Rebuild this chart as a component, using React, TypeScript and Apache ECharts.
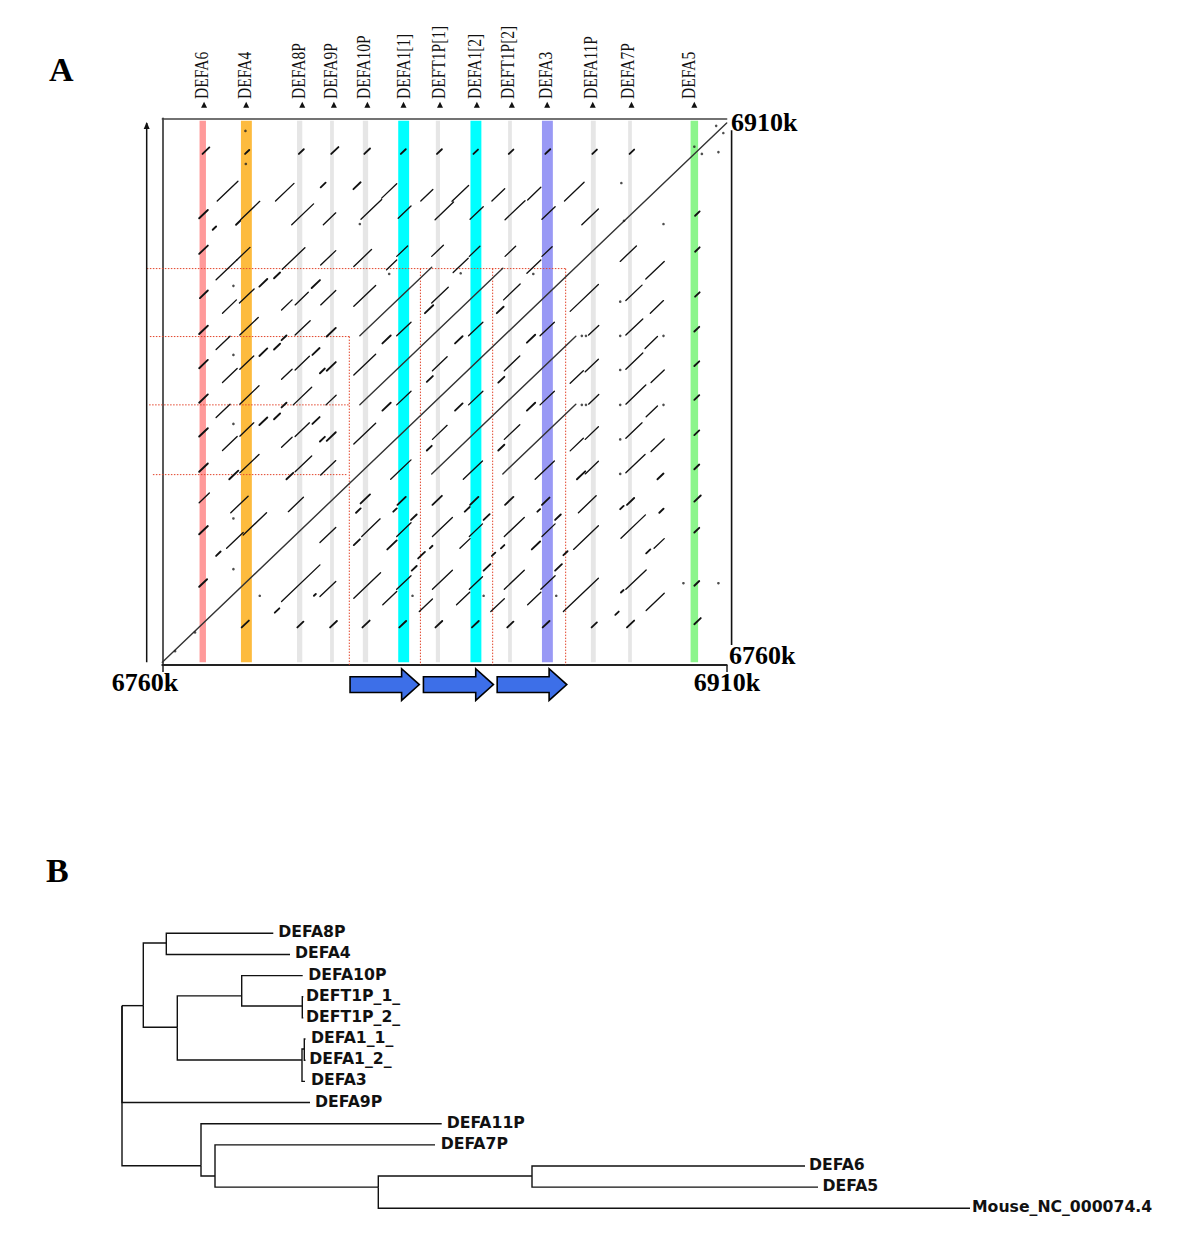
import React, { useEffect, useRef } from "react";
import * as echarts from "echarts";

// Panel A: positions in kb.
const geneNames = ["DEFA6","DEFA4","DEFA8P","DEFA9P","DEFA10P","DEFA1[1]","DEFT1P[1]","DEFA1[2]","DEFT1P[2]","DEFA3","DEFA11P","DEFA7P","DEFA5"];
const geneStart = [6769.9,6780.9,6795.8,6804.6,6813.3,6822.7,6832.7,6841.9,6851.9,6860.9,6873.9,6883.8,6900.4];
const geneEnd = [6771.6,6783.8,6797.2,6805.6,6814.7,6825.6,6833.8,6844.8,6852.9,6863.8,6875.2,6884.8,6902.4];
const geneColours = ["#ff9a9a","#fdbb3e","#e6e6e6","#e6e6e6","#e6e6e6","#00ffff","#e6e6e6","#00ffff","#e6e6e6","#9999f5","#e6e6e6","#e6e6e6","#8cf58c"];
const geneLabelPos = [6770.5,6782.1,6796.3,6804.8,6813.6,6824.2,6833.5,6843.1,6851.9,6861.9,6873.9,6883.8,6900.0];
const geneStrandPos = [6771.1,6782.3,6797.2,6805.6,6814.5,6824.1,6833.8,6843.6,6852.9,6862.3,6874.4,6884.7,6901.4];

// Matches in the dot plot: [x start kb, y start kb, length kb]
const rowA = [[6770.7,6901.4,1.8],[6782.0,6901.4,1.1],[6796.3,6901.4,1.3],[6804.9,6901.4,1.9],[6813.7,6901.4,1.5],[6823.4,6901.4,1.3],[6833.0,6901.4,1.3],[6842.7,6901.4,1.2],[6852.1,6901.4,1.2],[6861.8,6901.4,1.3],[6874.3,6901.4,1.2],[6884.2,6901.4,1.2]];
const rowB = [[6774.6,6888.3,5.5],[6790.1,6888.3,4.9],[6802.1,6892.1,1.3],[6810.8,6891.6,1.9],[6818.3,6889.1,4.0],[6828.7,6888.3,3.2],[6837.0,6888.2,4.4],[6847.6,6888.3,3.4],[6857.1,6888.6,3.5],[6866.9,6888.3,5.2]];
const rowC = [[6769.8,6883.5,2.3],[6773.4,6880.3,0.9],[6779.6,6881.7,1.1],[6780.8,6883.1,5.1],[6794.4,6881.7,5.8],[6802.8,6881.7,3.3],[6812.8,6883.2,5.5],[6822.7,6883.5,3.4],[6832.5,6883.1,4.9],[6841.8,6883.2,3.5],[6851.1,6883.1,5.3],[6860.9,6883.2,3.5],[6871.5,6881.7,4.4],[6901.6,6884.2,1.2]];
const rowD = [[6769.8,6873.6,2.3],[6774.3,6866.4,5.5],[6779.8,6871.9,3.5],[6791.9,6869.3,6.0],[6802.1,6870.5,4.0],[6810.9,6870.1,4.7],[6819.6,6869.2,2.7],[6822.3,6872.9,2.9],[6831.6,6872.9,3.1],[6837.3,6868.4,4.0],[6841.6,6872.9,2.8],[6851.1,6872.9,2.8],[6856.9,6868.2,3.7],[6860.9,6872.9,2.7],[6881.7,6871.5,4.3],[6888.5,6866.6,4.9],[6901.6,6874.2,1.2]];
const rowE = [[6770.0,6861.3,2.1],[6776.0,6857.1,3.7],[6780.5,6859.9,3.9],[6785.8,6864.5,2.1],[6789.7,6866.8,1.6],[6791.7,6858.0,2.8],[6795.3,6859.4,3.5],[6799.7,6864.1,2.2],[6802.1,6859.4,4.0],[6810.9,6859.0,5.8],[6829.8,6857.1,2.2],[6831.6,6859.9,4.4],[6848.9,6857.1,1.8],[6850.7,6860.8,4.4],[6868.4,6857.6,7.5],[6883.2,6860.6,4.3],[6889.7,6857.1,3.5],[6901.6,6861.7,1.2]];
const rowF = [[6769.8,6851.3,2.3],[6774.3,6847.0,3.7],[6780.6,6851.0,4.9],[6791.7,6849.6,1.3],[6795.3,6851.0,4.0],[6803.7,6850.6,2.4],[6818.5,6848.7,2.2],[6822.3,6850.8,3.8],[6837.8,6848.7,2.0],[6841.4,6850.8,3.8],[6856.9,6848.9,2.2],[6860.4,6850.8,3.8],[6873.3,6851.0,2.7],[6883.2,6851.0,4.5],[6888.3,6847.3,3.3],[6901.4,6852.0,1.3]];
const rowG = [[6769.8,6841.8,2.3],[6776.0,6837.8,3.9],[6780.6,6841.5,3.7],[6785.8,6845.2,2.1],[6789.7,6847.0,1.6],[6791.7,6838.7,2.8],[6795.3,6841.3,3.8],[6799.9,6845.5,1.9],[6801.9,6840.4,1.3],[6803.7,6841.1,2.4],[6810.9,6839.9,5.8],[6830.3,6838.0,1.6],[6831.8,6841.1,3.9],[6849.3,6837.8,1.6],[6850.9,6841.1,4.1],[6868.4,6837.6,3.5],[6872.4,6840.8,3.5],[6883.2,6841.5,4.5],[6889.9,6837.8,3.5],[6901.4,6842.4,1.3]];
const rowH = [[6769.8,6832.2,2.3],[6774.3,6828.1,3.7],[6780.6,6831.8,5.1],[6791.7,6830.9,1.3],[6794.8,6831.6,4.9],[6803.5,6831.6,2.7],[6818.5,6830.0,2.2],[6822.3,6831.6,3.8],[6837.8,6830.0,2.0],[6841.4,6831.6,3.8],[6856.9,6830.0,2.2],[6860.4,6831.6,3.8],[6873.3,6831.8,2.7],[6883.2,6831.8,5.3],[6888.6,6828.3,3.0],[6901.4,6833.0,1.3]];
const rowI = [[6769.8,6822.8,2.3],[6776.0,6818.9,3.9],[6780.6,6822.9,3.7],[6785.8,6826.0,2.1],[6789.7,6827.6,1.6],[6791.7,6819.8,2.8],[6795.3,6822.8,3.8],[6799.9,6826.3,1.9],[6801.9,6821.4,1.3],[6803.7,6821.6,2.4],[6810.9,6820.7,5.8],[6830.3,6818.9,1.3],[6831.8,6822.0,3.9],[6849.3,6818.9,1.6],[6850.9,6822.0,4.1],[6868.4,6818.8,3.5],[6872.4,6822.0,3.5],[6883.2,6822.3,4.3],[6889.9,6818.6,3.5],[6901.4,6823.2,1.3]];
const rowJ = [[6769.8,6813.0,2.3],[6777.8,6810.9,2.4],[6780.6,6812.7,5.1],[6793.0,6810.9,1.8],[6795.3,6813.0,4.4],[6802.1,6812.1,4.0],[6820.7,6810.9,5.4],[6840.0,6810.9,5.1],[6859.1,6810.9,5.1],[6870.2,6810.9,2.2],[6872.4,6812.4,3.5],[6883.2,6812.7,5.1],[6891.6,6810.9,1.6],[6901.4,6813.7,1.3]];
const rowK = [[6769.8,6804.4,2.7],[6778.2,6801.6,4.6],[6793.5,6801.9,4.0],[6811.5,6801.6,1.2],[6812.7,6804.2,2.5],[6821.4,6801.9,0.9],[6822.5,6803.8,2.2],[6831.8,6803.8,2.5],[6840.4,6801.9,1.3],[6841.8,6803.8,2.2],[6851.1,6803.8,2.2],[6859.7,6801.9,0.7],[6860.9,6803.8,2.0],[6870.6,6801.6,4.7],[6881.7,6802.6,0.9],[6883.5,6803.8,1.9],[6892.1,6801.6,1.1],[6901.4,6804.7,1.7]];
const rowL = [[6769.8,6795.6,2.3],[6774.3,6789.6,1.2],[6777.1,6791.7,4.4],[6781.5,6795.4,6.2],[6801.9,6793.3,4.2],[6810.9,6792.6,1.6],[6813.0,6795.0,4.9],[6819.8,6791.4,2.5],[6822.3,6795.0,3.8],[6826.1,6799.6,1.5],[6831.1,6791.7,0.7],[6831.8,6795.0,5.3],[6839.1,6791.7,2.7],[6841.6,6795.0,3.5],[6845.4,6799.6,1.6],[6850.0,6791.7,0.9],[6850.9,6795.0,5.3],[6858.2,6791.4,2.2],[6860.9,6795.0,3.5],[6864.4,6799.6,1.5],[6869.3,6791.4,6.6],[6881.9,6794.5,6.5],[6888.6,6790.3,1.1],[6890.7,6791.7,2.7],[6901.4,6796.1,1.3]];
const rowM = [[6769.8,6781.0,2.1],[6789.9,6773.8,1.2],[6791.7,6776.9,10.2],[6800.3,6778.5,0.5],[6801.9,6778.3,4.2],[6810.9,6777.8,7.1],[6818.6,6776.0,3.7],[6822.3,6780.3,3.8],[6826.3,6785.5,1.3],[6828.0,6788.9,1.8],[6828.3,6774.1,3.5],[6831.8,6780.3,5.3],[6838.2,6776.0,3.5],[6841.6,6780.3,3.5],[6845.4,6785.5,1.8],[6847.6,6789.6,0.9],[6847.3,6774.1,3.6],[6850.9,6780.3,5.3],[6857.1,6776.0,3.5],[6860.6,6780.3,3.8],[6864.4,6785.5,1.8],[6866.6,6789.8,1.1],[6866.6,6774.1,9.3],[6881.9,6779.4,0.7],[6883.2,6780.3,5.4],[6880.4,6773.2,0.9],[6888.6,6774.4,4.8],[6901.4,6781.3,1.3]];
const rowN = [[6781.1,6769.7,1.9],[6795.9,6769.7,1.6],[6804.6,6769.7,1.8],[6813.2,6769.7,1.9],[6823.0,6769.7,1.8],[6832.6,6769.7,1.8],[6842.3,6769.7,1.8],[6851.7,6769.7,1.6],[6861.1,6769.7,1.8],[6874.1,6769.7,1.4],[6883.5,6769.7,1.9],[6901.4,6770.6,1.7]];
const longMatches = [[6760,6760,150],[6812.5,6850.8,19.1],[6812.5,6831.6,38.0],[6831.6,6812.4,38.3],[6850.5,6812.4,19.4]];
const isolatedDots = [[6782.1,6907.8],[6782.2,6898.6],[6882.0,6893.3],[6812.5,6881.9],[6893.2,6881.9],[6882.7,6882.8],[6820.3,6868.0],[6839.3,6868.2],[6858.6,6868.0],[6907.2,6909.2],[6909.1,6907.2],[6903.4,6901.4],[6907.8,6901.9],[6901.4,6903.4],[6881.7,6860.3],[6778.9,6864.7],[6881.7,6850.8],[6893.2,6850.8],[6871.5,6850.8],[6872.6,6850.8],[6778.9,6845.5],[6881.7,6841.3],[6778.9,6826.3],[6881.7,6831.6],[6871.5,6831.6],[6872.6,6831.6],[6893.2,6831.6],[6881.7,6822.0],[6881.7,6812.4],[6778.9,6800.0],[6778.9,6785.9],[6785.9,6778.5],[6826.5,6778.5],[6845.4,6778.5],[6864.7,6778.5],[6898.5,6782.0],[6907.8,6782.0],[6768.7,6768.3],[6763.4,6763.1]];

// Guides: [x0, y0, x1, y1] kb
const guides = [[6755.9,6869.5,6867.2,6869.5],[6756.7,6850.6,6809.7,6850.6],[6756.5,6831.6,6809.7,6831.6],[6757.5,6812.2,6809.0,6812.2],[6809.7,6850.6,6809.7,6759.25],[6828.6,6869.5,6828.6,6759.25],[6847.8,6869.5,6847.8,6759.25],[6867.2,6869.5,6867.2,6759.25]];
// Repeat units: [start kb, end kb]
const repeatUnits = [[6809.9,6828.3],[6829.4,6848.0],[6849.0,6867.5]];

// Panel B: phylogeny.
const treeNames = ["","","","DEFA8P","DEFA4","","","DEFA10P","","DEFT1P_1_","DEFT1P_2_","","","DEFA1_1_","DEFA1_2_","DEFA3","DEFA9P","","DEFA11P","","DEFA7P","","","DEFA6","DEFA5","Mouse_NC_000074.4"];
const treeParents = [-1,0,1,2,2,1,5,6,6,8,8,5,11,12,12,11,0,0,17,17,19,19,21,22,22,21];
const treeDepths = [0,21.3,44.3,151.3,168,55.3,119.7,180.7,180.3,181.3,181.3,180,182.3,183.5,183.5,183,188,79,319.7,93,313,256.3,410,683,696,848];
const treeRows = [3.42,3.42,0.46,0,1,4.44,2.96,2,3.44,3,4,5.99,5.47,5,6,7,8,10.99,9,11.47,10,12,11.47,11,12,13];
const treeLabelDepths = [0,0,0,156.3,173,0,0,186.3,0,184,184,0,0,189,187.3,189,193,0,324.7,0,318.7,0,0,687,700.5,850];

const KB_BOTTOM = 6760;
const KB_TOP = 6910.6;
const LABEL_Y = 6916.7;
const SERIF = '"Liberation Serif", serif';

function seg(api: any, stroke: string, lineWidth: number) {
  const x = api.value(0), y = api.value(1), L = api.value(2);
  const a = api.coord([x, y]), b = api.coord([x + L, y + L]);
  return { type: "line", shape: { x1: a[0], y1: a[1], x2: b[0], y2: b[1] }, style: { stroke, lineWidth, lineCap: "round" } };
}

export default function App() {
  const ref = useRef<HTMLDivElement>(null);
  useEffect(() => {
    const chart = echarts.init(ref.current!, undefined, { renderer: "svg" });
    const shortMatches = [...rowA, ...rowB, ...rowC, ...rowD, ...rowE, ...rowF, ...rowG, ...rowH, ...rowI, ...rowJ, ...rowK, ...rowL, ...rowM, ...rowN];
    const base = { coordinateSystem: "cartesian2d", xAxisIndex: 0, yAxisIndex: 0, silent: true };
    const treeEdges = treeParents.map((p, i) => [i, p]).filter((e) => e[1] >= 0);
    const bigText = (text: string, x: number, y: number, align: string, size: number) => ({
      type: "text", x, y, z: 100,
      style: { text, fill: "#000", font: `bold ${size}px ${SERIF}`, textAlign: align, textVerticalAlign: "middle" },
    });
    chart.setOption({
      animation: false,
      backgroundColor: "#fff",
      tooltip: { show: false },
      grid: [
        { left: 162.3, top: 118.3, width: 564.4, height: 546.7 },
        { left: 122, top: 933.3, width: 1078, height: 275 },
      ],
      xAxis: [
        { type: "value", gridIndex: 0, min: 6760, max: 6910, position: "bottom", splitLine: { show: false }, axisLabel: { show: false },
          axisLine: { show: true, onZero: false, lineStyle: { color: "#222", width: 2 } },
          axisTick: { show: true, length: 7, customValues: [6760, 6910], lineStyle: { color: "#222", width: 1.5 } } },
        { type: "value", gridIndex: 0, min: 6760, max: 6910, position: "top", splitLine: { show: false }, axisLabel: { show: false }, axisTick: { show: false },
          axisLine: { show: true, onZero: false, lineStyle: { color: "#444", width: 1.5 } } },
        { type: "value", gridIndex: 1, min: 0, max: 1078, show: false },
      ],
      yAxis: [
        { type: "value", gridIndex: 0, min: 6759.25, max: 6911.3, splitLine: { show: false }, axisLabel: { show: false }, axisTick: { show: false },
          axisLine: { show: true, onZero: false, lineStyle: { color: "#222", width: 1.5 } } },
        { type: "value", gridIndex: 1, min: 0, max: 13, inverse: true, show: false },
      ],
      graphic: [
        bigText("A", 49, 69, "left", 34),
        bigText("B", 46, 870, "left", 34),
        bigText("6760k", 145, 682, "center", 26),
        bigText("6910k", 727, 682, "center", 26),
        bigText("6910k", 731, 122, "left", 26),
        bigText("6760k", 729, 655, "left", 26),
      ],
      series: [
        { ...base, type: "custom", z: 1, data: geneStart.map((s, i) => [s, geneEnd[i]]),
          renderItem: (p: any, api: any) => {
            const a = api.coord([api.value(0), KB_TOP]), b = api.coord([api.value(1), KB_BOTTOM]);
            return { type: "rect", shape: { x: a[0], y: a[1], width: b[0] - a[0], height: b[1] - a[1] }, style: { fill: geneColours[p.dataIndex] } };
          } },
        { ...base, type: "custom", z: 2, data: guides,
          renderItem: (_: any, api: any) => {
            const a = api.coord([api.value(0), api.value(1)]), b = api.coord([api.value(2), api.value(3)]);
            return { type: "line", shape: { x1: a[0], y1: a[1], x2: b[0], y2: b[1] }, style: { stroke: "#e2452b", lineWidth: 1, lineDash: [1.5, 1.5] } };
          } },
        { ...base, type: "custom", z: 3, data: longMatches, renderItem: (_: any, api: any) => seg(api, "#333", 1.4) },
        { ...base, type: "custom", z: 4, data: shortMatches, renderItem: (_: any, api: any) => seg(api, "#111", api.value(2) < 2.6 ? 1.9 : 1.35) },
        { ...base, type: "scatter", z: 4, data: isolatedDots, symbolSize: 2.6, itemStyle: { color: "#222" } },
        { ...base, type: "custom", z: 5, data: geneLabelPos.map((v) => [v]),
          renderItem: (p: any, api: any) => {
            const c = api.coord([api.value(0), LABEL_Y]);
            return { type: "text", x: c[0], y: c[1], rotation: Math.PI / 2, scaleY: 1.15,
              style: { text: geneNames[p.dataIndex], fill: "#111", font: `15.5px ${SERIF}`, textAlign: "left", textVerticalAlign: "middle" } };
          } },
        { ...base, type: "custom", z: 5, data: geneStrandPos.map((v) => [v]),
          renderItem: (_: any, api: any) => {
            const t = api.coord([api.value(0), 6915.9]), l = api.coord([api.value(0) - 0.8, 6914.2]), r = api.coord([api.value(0) + 0.8, 6914.2]);
            return { type: "polygon", shape: { points: [t, l, r] }, style: { fill: "#111" } };
          } },
        { ...base, type: "custom", z: 5, data: repeatUnits,
          renderItem: (_: any, api: any) => {
            const s = api.value(0), e = api.value(1), base2 = e - 4.7, cy = 6753.8;
            const pts = [[s, cy + 2.2], [base2, cy + 2.2], [base2, cy + 4.4], [e, cy], [base2, cy - 4.4], [base2, cy - 2.2], [s, cy - 2.2]].map((q) => api.coord(q));
            return { type: "polygon", shape: { points: pts }, style: { fill: "#3d6fe8", stroke: "#000", lineWidth: 1.6 } };
          } },
        { ...base, type: "custom", z: 5, data: [[6755.85, 6760, 6910]],
          renderItem: (_: any, api: any) => {
            const x = api.value(0);
            const a = api.coord([x, api.value(1)]), b = api.coord([x, api.value(2)]);
            return { type: "group", children: [
              { type: "line", shape: { x1: a[0], y1: a[1], x2: b[0], y2: b[1] }, style: { stroke: "#111", lineWidth: 1.5 } },
              { type: "polygon", shape: { points: [[b[0], b[1] - 1], [b[0] - 3, b[1] + 6], [b[0] + 3, b[1] + 6]] }, style: { fill: "#111" } },
            ] };
          } },
        { ...base, type: "custom", z: 5, data: [[6911.3, 6764.8, 6908]],
          renderItem: (_: any, api: any) => {
            const x = api.value(0);
            const a = api.coord([x, api.value(1)]), b = api.coord([x, api.value(2)]);
            return { type: "line", shape: { x1: a[0], y1: a[1], x2: b[0], y2: b[1] }, style: { stroke: "#111", lineWidth: 1.6 } };
          } },
        { coordinateSystem: "cartesian2d", xAxisIndex: 2, yAxisIndex: 1, silent: true, type: "custom", z: 5, data: treeEdges,
          renderItem: (_: any, api: any) => {
            const c = api.value(0), q = api.value(1);
            const a = api.coord([treeDepths[q], treeRows[q]]), b = api.coord([treeDepths[q], treeRows[c]]), d = api.coord([treeDepths[c], treeRows[c]]);
            return { type: "polyline", shape: { points: [a, b, d] }, style: { stroke: "#111", lineWidth: 1.4, fill: "none" } };
          } },
        { coordinateSystem: "cartesian2d", xAxisIndex: 2, yAxisIndex: 1, silent: true, type: "custom", z: 5,
          data: treeNames.map((n, i) => [treeLabelDepths[i], treeRows[i], n ? 1 : 0, i]).filter((r) => r[2]),
          renderItem: (_: any, api: any) => {
            const c = api.coord([api.value(0), api.value(1)]);
            return { type: "text", x: c[0], y: c[1] - 1.5,
              style: { text: treeNames[api.value(3)], fill: "#111", font: 'bold 15.7px "DejaVu Sans", sans-serif', textAlign: "left", textVerticalAlign: "middle" } };
          } },
      ],
    });
    return () => chart.dispose();
  }, []);
  return <div ref={ref} style={{ marginLeft: -8, marginTop: -8, width: 1200, height: 1245 }} />;
}
